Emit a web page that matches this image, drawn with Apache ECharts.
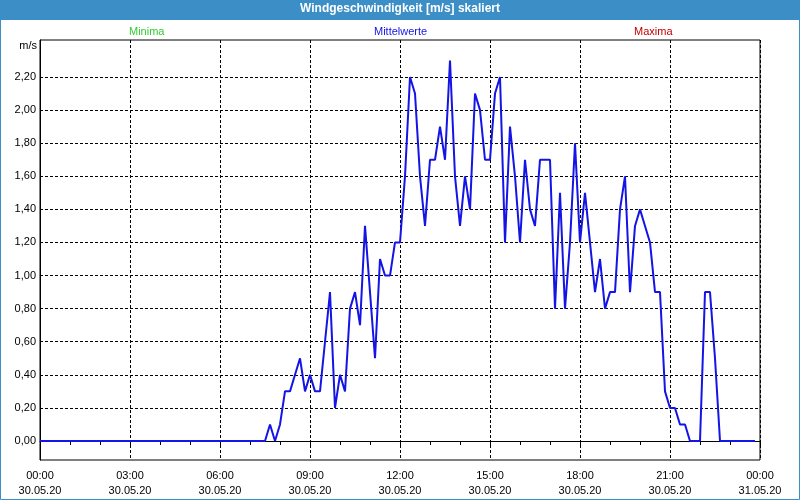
<!DOCTYPE html>
<html><head><meta charset="utf-8">
<script src="https://cdn.jsdelivr.net/npm/echarts@6/dist/echarts.min.js"></script>
<style>html,body{margin:0;padding:0;background:#fff}#c{width:800px;height:500px}</style>
</head><body><div id="c"></div>
<script>
const titleText = 'Windgeschwindigkeit [m/s] skaliert';
const unitLabel = 'm/s';
const legendNames = ['Minima', 'Mittelwerte', 'Maxima'];
const yTicks = [0, 0.2, 0.4, 0.6, 0.8, 1.0, 1.2, 1.4, 1.6, 1.8, 2.0, 2.2];
const xTickHours = [0, 3, 6, 9, 12, 15, 18, 21, 24];
const xTickLabels = ['00:00\n30.05.20', '03:00\n30.05.20', '06:00\n30.05.20', '09:00\n30.05.20',
  '12:00\n30.05.20', '15:00\n30.05.20', '18:00\n30.05.20', '21:00\n30.05.20', '00:00\n31.05.20'];
const stepMinutes = 10; // one value every 10 minutes, starting 30.05.20 00:00
const mittelwerte = [
  // 00:00 - 07:30
  0,0,0,0,0,0, 0,0,0,0,0,0, 0,0,0,0,0,0, 0,0,0,0,0,0,
  0,0,0,0,0,0, 0,0,0,0,0,0, 0,0,0,0,0,0, 0,0,0,0,
  // 07:40 -
  0.1,0,0.1,0.3,0.3,0.4,0.5,0.3,0.4,0.3,0.3,0.6,0.9,0.2,0.4,0.3,0.8,0.9,
  0.7,1.3,0.9,0.5,1.1,1.0,1.0,1.2,1.2,1.6,2.2,2.1,1.6,1.3,1.7,1.7,1.9,1.7,
  2.3,1.6,1.3,1.6,1.4,2.1,2.0,1.7,1.7,2.1,2.2,1.2,1.9,1.6,1.2,1.7,1.4,1.3,
  1.7,1.7,1.7,0.8,1.5,0.8,1.2,1.8,1.2,1.5,1.2,0.9,1.1,0.8,0.9,0.9,1.4,1.6,
  0.9,1.3,1.4,1.3,1.2,0.9,0.9,0.3,0.2,0.2,0.1,0.1,0,0,0,0.9,0.9,0.5,
  // 22:40 - 23:50
  0,0,0,0,0,0,0,0
];
const minima = [];
const maxima = [];

const FONT = 'Liberation Sans';
const seriesData = mittelwerte.map((v, i) => [i * stepMinutes / 60, v]);

const chart = echarts.init(document.getElementById('c'), null, {renderer: 'canvas'});
const legendColors = ['#33cc33', '#1414e6', '#c00000'];
const legendLefts = [124, 369, 629];
chart.setOption({
  animation: false,
  backgroundColor: '#ffffff',
  title: {
    text: titleText, left: 'center', top: 3, padding: 0,
    textStyle: {color: '#ffffff', fontWeight: 'bold', fontSize: 12, fontFamily: FONT}
  },
  legend: legendNames.map((n, k) => ({
    data: [{name: n, textStyle: {color: legendColors[k]}}],
    left: legendLefts[k], top: 26, padding: 0, icon: 'none', itemWidth: 0, itemHeight: 0,
    itemGap: 0, selectedMode: false,
    textStyle: {fontSize: 11, fontFamily: FONT, color: legendColors[k]}
  })),
  graphic: [
    {type: 'rect', z: -10, shape: {x: 0, y: 0, width: 800, height: 20}, style: {fill: '#3c8ec6'}},
    {type: 'rect', z: -10, shape: {x: 0.5, y: 0.5, width: 799, height: 499}, style: {fill: null, stroke: '#3c8ec6', lineWidth: 1}},
    {type: 'text', right: 763, top: 40, style: {text: unitLabel, fontSize: 11, fontFamily: FONT, fill: '#000'}}
  ],
  grid: {left: 40, right: 40, top: 40, bottom: 40, show: true, borderColor: '#000', borderWidth: 1, backgroundColor: '#fff'},
  xAxis: {
    type: 'value', min: 0, max: 24, interval: 3,
    axisLine: {show: true, lineStyle: {color: '#000', width: 1}},
    axisTick: {show: true, length: 4, lineStyle: {color: '#000'}},
    minorTick: {show: true, splitNumber: 3, length: 4, lineStyle: {color: '#000'}},
    splitLine: {show: true, lineStyle: {color: '#000', type: [3, 2], width: 1}},
    axisLabel: {
      margin: 8, fontSize: 11, lineHeight: 15, fontFamily: FONT, color: '#000',
      formatter: v => { const k = xTickHours.indexOf(v); return k >= 0 ? xTickLabels[k] : ''; }
    }
  },
  yAxis: {
    type: 'value', min: -0.1148, max: 2.4237,
    axisLine: {show: true, lineStyle: {color: '#000', width: 1}},
    axisTick: {show: false, customValues: yTicks},
    splitLine: {show: true, lineStyle: {color: '#000', type: [3, 2], width: 1}},
    axisLabel: {
      customValues: yTicks, margin: 4, fontSize: 11, fontFamily: FONT, color: '#000',
      formatter: v => v.toFixed(2).replace('.', ',')
    }
  },
  series: [
    {name: 'Minima', type: 'line', data: minima, color: legendColors[0]},
    {name: 'Mittelwerte', type: 'line', data: seriesData, showSymbol: false, color: legendColors[1],
     lineStyle: {color: '#1414e6', width: 2}},
    {name: 'Maxima', type: 'line', data: maxima, color: legendColors[2]}
  ]
});
</script></body></html>
